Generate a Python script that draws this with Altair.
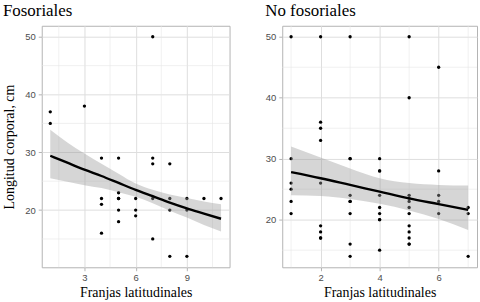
import altair as alt
import pandas as pd

# ---- Fosoriales (left panel) ----
fos_x = [1, 1, 3, 4, 4, 4, 4, 5, 5, 5, 5, 5, 5, 6, 6, 6, 7, 7, 7, 7, 7, 8, 8, 8, 8, 9, 9, 9, 10, 11]
fos_y = [37, 35, 38, 29, 22, 21, 16, 29, 23, 22, 22, 20, 18, 22, 20, 19, 50, 29, 28, 22, 15, 28, 22, 20, 12, 22, 20, 12, 22, 22]
fos_fit_x = [1, 2, 3, 4, 5, 6, 7, 8, 9, 10, 11]
fos_fit = [29.4, 28.2, 27.0, 25.9, 24.7, 23.5, 22.4, 21.3, 20.3, 19.4, 18.5]
fos_hi = [33.9, 31.7, 29.8, 28.0, 26.3, 24.6, 23.5, 22.7, 22.1, 21.5, 21.0]
fos_lo = [25.5, 24.9, 24.3, 23.8, 23.1, 22.3, 21.2, 19.9, 18.7, 17.4, 16.3]

# ---- No fosoriales (right panel) ----
nof_x = ([1] * 6 + [2] * 9 + [3] * 9 + [4] * 9 + [5] * 12 + [6] * 5 + [7] * 3)
nof_y = ([50, 30, 26, 25, 23, 21]
         + [50, 36, 35, 33, 26, 19, 18, 17, 17]
         + [50, 30, 30, 24, 23, 23, 21, 16, 14]
         + [30, 28, 28, 24, 22, 21, 20, 20, 15]
         + [50, 40, 24, 23.5, 23, 22, 21, 19, 18, 17, 16, 16]
         + [45, 28, 24, 23, 21]
         + [22, 21, 14])
nof_fit_x = [1, 2, 3, 4, 5, 6, 7]
nof_fit = [27.8, 26.8, 25.7, 24.6, 23.5, 22.55, 21.6]
nof_hi = [32.0, 30.2, 28.4, 26.8, 26.0, 25.7, 25.6]
nof_lo = [24.0, 23.9, 23.4, 22.6, 21.5, 20.1, 18.3]

y_ticks = [20, 30, 40, 50]
y_minor = [15, 25, 35, 45]
fos_xticks = [3, 6, 9]
fos_xminor = [1.5, 4.5, 7.5, 10.5]
nof_xticks = [2, 4, 6]
nof_xminor = [1, 3, 5, 7]

SERIF = "Liberation Serif"
SANS = "Liberation Sans"


def panel(title, px, py, fx, fmu, flo, fhi, xdom, ydom, xticks, xminor,
          ytitle, width, yextent, ytitlepad):
    pts = pd.DataFrame({"x": px, "y": py})
    fit = pd.DataFrame({"x": fx, "mu": fmu, "lo": flo, "hi": fhi})
    gx = pd.DataFrame({"v": xminor})
    gy = pd.DataFrame({"v": y_minor})

    xs = alt.Scale(domain=xdom, nice=False, zero=False)
    ys = alt.Scale(domain=ydom, nice=False, zero=False)
    xax = alt.Axis(values=xticks, title="Franjas latitudinales",
                   titlePadding=3, labelPadding=2,
                   titleFont=SERIF, titleFontSize=14, titleFontWeight="normal",
                   titleColor="black")
    yax_kwargs = dict(values=y_ticks, labelPadding=3,
                      minExtent=yextent, maxExtent=yextent)
    if ytitle:
        yax = alt.Axis(title=ytitle, titlePadding=ytitlepad,
                       titleFont=SERIF, titleFontSize=14,
                       titleFontWeight="normal", titleColor="black",
                       **yax_kwargs)
    else:
        yax = alt.Axis(title=None, **yax_kwargs)

    minor_x = alt.Chart(gx).mark_rule(color="#e6e6e6", strokeWidth=0.6).encode(
        x=alt.X("v:Q", scale=xs, axis=xax))
    minor_y = alt.Chart(gy).mark_rule(color="#e6e6e6", strokeWidth=0.6).encode(
        y=alt.Y("v:Q", scale=ys, axis=yax))
    points = alt.Chart(pts).mark_circle(size=11, color="black", opacity=1).encode(
        x=alt.X("x:Q", scale=xs, axis=xax),
        y=alt.Y("y:Q", scale=ys, axis=yax))
    band = alt.Chart(fit).mark_area(color="#999999", opacity=0.4,
                                    interpolate="monotone").encode(
        x=alt.X("x:Q", scale=xs, axis=xax),
        y=alt.Y("lo:Q", scale=ys, axis=yax),
        y2="hi:Q")
    line = alt.Chart(fit).mark_line(color="black", strokeWidth=2.4,
                                    interpolate="monotone").encode(
        x=alt.X("x:Q", scale=xs, axis=xax),
        y=alt.Y("mu:Q", scale=ys, axis=yax))
    return alt.layer(minor_x, minor_y, points, band, line).properties(
        width=width, height=243,
        title=alt.TitleParams(title, anchor="start", font=SERIF, fontSize=17,
                              fontWeight="normal", baseline="alphabetic",
                              offset=-7, color="black"))


left = panel("Fosoriales", fos_x, fos_y, fos_fit_x, fos_fit, fos_lo, fos_hi,
             [0.5, 11.5], [10.1, 51.9], fos_xticks, fos_xminor,
             "Longitud corporal, cm", 189, 18, 7)
right = panel("No fosoriales", nof_x, nof_y, nof_fit_x, nof_fit, nof_lo, nof_hi,
              [0.7, 7.3], [12.2, 51.8], nof_xticks, nof_xminor,
              None, 196, 17, 0)

chart = alt.hconcat(left, right, spacing=34).properties(
    padding={"left": 2, "top": 0, "right": 2, "bottom": 0}
).configure_view(
    stroke="#b3b3b3", strokeWidth=1
).configure_axis(
    domain=False, grid=True, gridColor="#dedede", gridWidth=1,
    tickColor="#b3b3b3", tickSize=3.5, tickWidth=1,
    labelColor="#4d4d4d", labelFont=SANS, labelFontSize=9.5
)

chart.save("out.html", embed_options={"renderer": "svg", "actions": False})
